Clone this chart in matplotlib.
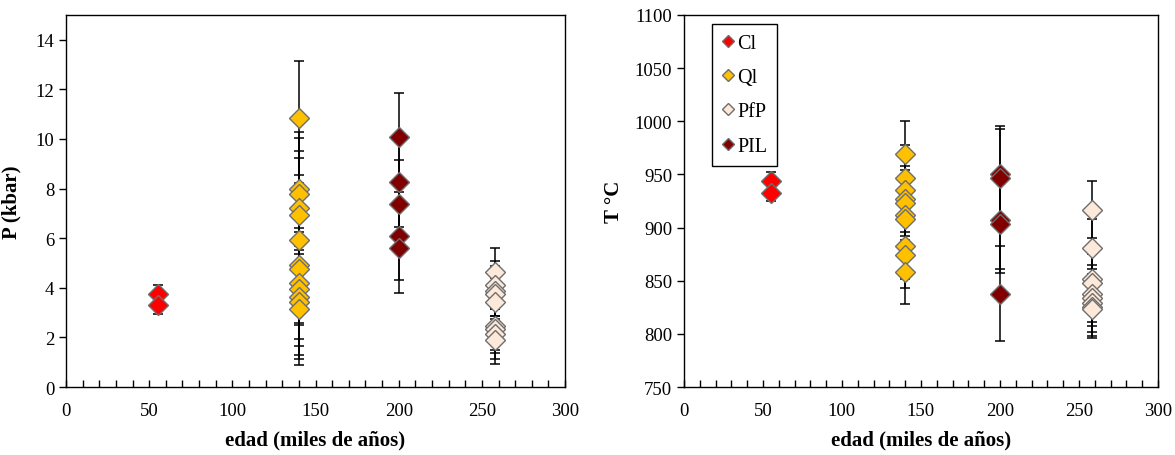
import numpy as np
import matplotlib
matplotlib.use("Agg")
import matplotlib.pyplot as plt
from matplotlib.ticker import MultipleLocator

plt.rcParams["font.family"] = ["Liberation Serif", "DejaVu Serif"]

# ---- data ----
groups = ["Cl", "Ql", "PfP", "PIL"]
ages = {"Cl": 55, "Ql": 140, "PfP": 258, "PIL": 200}
colors = {"Cl": "#FF0000", "Ql": "#FFC000", "PfP": "#FDE9D9", "PIL": "#800000"}

# pressure (kbar) and error
p_cl = [3.75, 3.3]
p_cl_err = [0.35, 0.35]
p_ql = [10.85, 8.0, 7.78, 7.21, 6.93, 5.93, 4.93, 4.75, 4.19, 3.94, 3.63, 3.43, 3.14]
p_ql_err = [2.3, 2.3, 2.27, 2.29, 2.32, 2.3, 2.33, 2.25, 2.24, 2.3, 2.33, 2.28, 2.24]
p_pfp = [4.62, 4.12, 3.88, 3.74, 3.41, 2.46, 2.33, 2.13, 1.9]
p_pfp_err = [0.98, 0.97, 1.0, 1.0, 1.0, 0.98, 0.95, 1.0, 0.98]
p_pil = [10.09, 8.25, 7.38, 6.1, 5.59]
p_pil_err = [1.75, 1.8, 1.79, 1.77, 1.79]

# temperature (°C) and error
t_cl = [944, 933]
t_cl_err = [8, 8]
t_ql = [969, 947, 935, 927, 923, 912, 908, 883, 874, 858]
t_ql_err = [31, 31, 31, 31, 31, 31, 31, 31, 31, 30]
t_pfp = [917, 881, 852, 848, 838, 834, 829, 825, 823]
t_pfp_err = [27, 27, 27, 27, 27, 27, 27, 27, 27]
t_pil = [950, 947, 907, 903, 838]
t_pil_err = [46, 46, 46, 46, 45]

pdata = {"Cl": (p_cl, p_cl_err), "Ql": (p_ql, p_ql_err),
         "PfP": (p_pfp, p_pfp_err), "PIL": (p_pil, p_pil_err)}
tdata = {"Cl": (t_cl, t_cl_err), "Ql": (t_ql, t_ql_err),
         "PfP": (t_pfp, t_pfp_err), "PIL": (t_pil, t_pil_err)}

fig = plt.figure(figsize=(11.75, 4.56), dpi=100)
axL = fig.add_axes([0.0562, 0.149, 0.4247, 0.816])
axR = fig.add_axes([0.5821, 0.149, 0.4034, 0.816])


def draw(ax, data):
    for g in groups:
        vals, errs = data[g]
        x = [ages[g]] * len(vals)
        ax.errorbar(x, vals, yerr=errs, fmt="none", ecolor="black",
                    elinewidth=1.1, capsize=3.5, capthick=1.1, zorder=2)
        ax.plot(x, vals, "D", ms=10, mfc=colors[g], mec="#6E6E6E",
                mew=1.0, ls="none", label=g, zorder=3)


def style(ax):
    ax.set_xlim(0, 300)
    ax.xaxis.set_major_locator(MultipleLocator(50))
    ax.xaxis.set_minor_locator(MultipleLocator(10))
    ax.tick_params(axis="x", which="both", direction="in", length=5,
                   width=1, labelsize=13.5, pad=11)
    ax.tick_params(axis="y", direction="out", length=5, width=1,
                   labelsize=13.5)
    for s in ax.spines.values():
        s.set_linewidth(1.0)
        s.set_color("black")
    ax.set_xlabel("edad (miles de años)", fontsize=15, fontweight="bold",
                  labelpad=7)


draw(axL, pdata)
style(axL)
axL.set_ylim(0, 15)
axL.set_yticks(np.arange(0, 15, 2))
axL.set_ylabel("P (kbar)", fontsize=15, fontweight="bold", labelpad=10)

draw(axR, tdata)
style(axR)
axR.set_ylim(750, 1100)
axR.set_yticks(np.arange(750, 1101, 50))
axR.set_ylabel("T °C", fontsize=15, fontweight="bold", labelpad=8)

leg = axR.legend(loc="upper left", bbox_to_anchor=(0.059, 0.976),
                 borderaxespad=0, fontsize=14.5, markerscale=0.6,
                 handlelength=0.6, handletextpad=0.15, labelspacing=0.75,
                 borderpad=0.5, fancybox=False, framealpha=1,
                 edgecolor="black")
leg.get_frame().set_linewidth(1.0)

fig.savefig("out.png", dpi=100)
